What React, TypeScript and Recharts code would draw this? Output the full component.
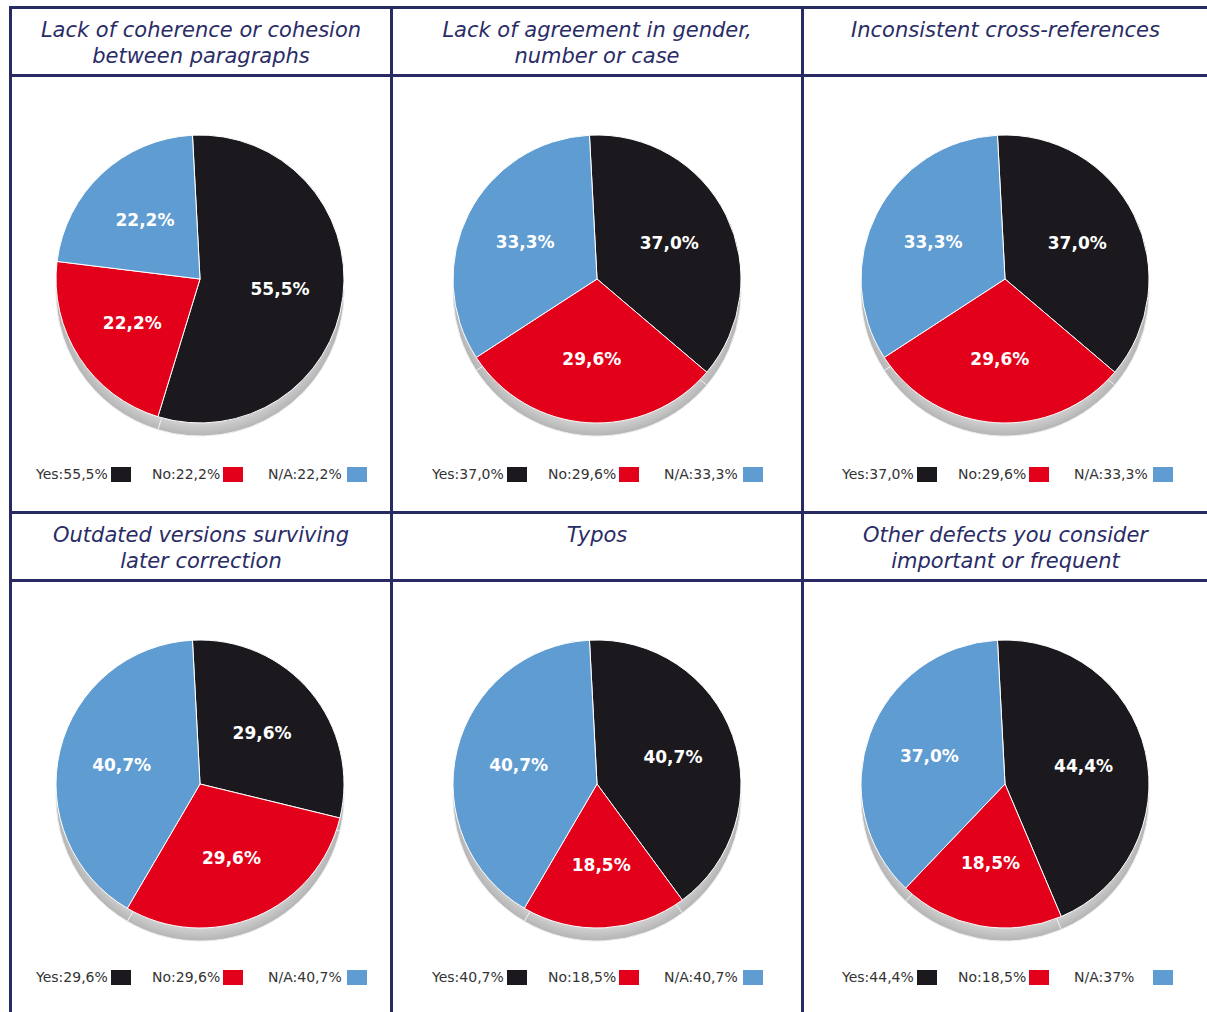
import React from 'react';
import { PieChart, Pie, Cell, Legend } from 'recharts';

const titles = [
  ['Lack of coherence or cohesion', 'between paragraphs'],
  ['Lack of agreement in gender,', 'number or case'],
  ['Inconsistent cross-references'],
  ['Outdated versions surviving', 'later correction'],
  ['Typos'],
  ['Other defects you consider', 'important or frequent'],
];

const categories = ['Yes', 'No', 'N/A'];
const yesValues = [55.5, 37.0, 37.0, 29.6, 40.7, 44.4];
const noValues = [22.2, 29.6, 29.6, 29.6, 18.5, 18.5];
const naValues = [22.2, 33.3, 33.3, 40.7, 40.7, 37.0];

// legend strings as printed (last N/A is written without decimal)
const yesLegend = ['55,5%', '37,0%', '37,0%', '29,6%', '40,7%', '44,4%'];
const noLegend = ['22,2%', '29,6%', '29,6%', '29,6%', '18,5%', '18,5%'];
const naLegend = ['22,2%', '33,3%', '33,3%', '40,7%', '40,7%', '37%'];

const COLORS = ['#1b191e', '#e2001a', '#5f9cd1'];
const NAVY = '#272a63';
const FONT = '"DejaVu Sans", Verdana, sans-serif';

const LINE = 3;
const colLeft = [3, 384, 795];
const colWidth = [378, 408, 403];
const pieCx = [188, 204, 201];
const legendLeft = [24, 39, 38];
const rowHeaderTop = [3, 508];
const rowBodyTop = [71, 576];
const legendTop = [389, 387];
const CY = 202;
const R = 144;
const SHADOW = 13;

const RAD = Math.PI / 180;

function renderLabel(props: any) {
  const { cx, cy, midAngle, outerRadius, value } = props;
  const r = outerRadius * 0.56;
  const x = cx + r * Math.cos(-midAngle * RAD);
  const y = cy + r * Math.sin(-midAngle * RAD);
  return (
    <text
      x={x}
      y={y}
      fill="#ffffff"
      textAnchor="middle"
      dominantBaseline="central"
      fontFamily={FONT}
      fontWeight="bold"
      fontSize={17}
    >
      {value.toFixed(1).replace('.', ',')}%
    </text>
  );
}

function PiePanel({ i }: { i: number }) {
  const col = i % 3;
  const row = Math.floor(i / 3);
  const data = categories.map((name, k) => ({
    name,
    value: [yesValues, noValues, naValues][k][i],
  }));
  const legendTexts = [yesLegend[i], noLegend[i], naLegend[i]];
  const cx = pieCx[col];

  return (
    <PieChart
      width={colWidth[col]}
      height={430}
      margin={{ top: 0, right: 0, bottom: 0, left: 0 }}
    >
      <defs>
        <radialGradient
          id={`shadow${i}`}
          gradientUnits="userSpaceOnUse"
          cx={cx}
          cy={CY + SHADOW}
          r={R}
        >
          <stop offset="0%" stopColor="#dcdcdc" />
          <stop offset="90%" stopColor="#d4d4d4" />
          <stop offset="100%" stopColor="#b4b4b4" />
        </radialGradient>
      </defs>
      {/* grey base, shifted down, gives the 3D rim */}
      <Pie
        data={data}
        dataKey="value"
        nameKey="name"
        cx={cx}
        cy={CY + SHADOW}
        outerRadius={R}
        startAngle={93}
        endAngle={-267}
        stroke="#ececec"
        strokeWidth={1}
        legendType="none"
        isAnimationActive={false}
      >
        {data.map((d) => (
          <Cell key={d.name} fill={`url(#shadow${i})`} />
        ))}
      </Pie>
      <Pie
        data={data}
        dataKey="value"
        nameKey="name"
        cx={cx}
        cy={CY}
        outerRadius={R}
        startAngle={93}
        endAngle={-267}
        stroke="#ffffff"
        strokeWidth={1}
        label={renderLabel}
        labelLine={false}
        isAnimationActive={false}
      >
        {data.map((d, k) => (
          <Cell key={d.name} fill={COLORS[k]} />
        ))}
      </Pie>
      <Legend
        wrapperStyle={{ top: legendTop[row], left: legendLeft[col], width: 'auto', height: 16 }}
        content={() => (
          <div style={{ display: 'flex', fontFamily: FONT, fontSize: 14, color: '#333333' }}>
            {categories.map((c, k) => (
              <div key={c} style={{ width: 116, display: 'flex', alignItems: 'center', height: 16 }}>
                <span style={{ minWidth: k === 2 ? 76 : undefined, whiteSpace: 'nowrap', lineHeight: '16px' }}>
                  {c}:{legendTexts[k]}
                </span>
                <span
                  style={{
                    display: 'inline-block',
                    width: 20,
                    height: 15,
                    marginLeft: 3,
                    background: COLORS[k],
                  }}
                />
              </div>
            ))}
          </div>
        )}
      />
    </PieChart>
  );
}

export default function App() {
  const hLines = [0, 68, 505, 573];
  const vLines = [0, 381, 792];
  return (
    <div style={{ position: 'absolute', left: 9, top: 6, width: 1198, height: 1006, overflow: 'hidden' }}>
      {hLines.map((y) => (
        <div key={`h${y}`} style={{ position: 'absolute', left: 0, top: y, width: 1198, height: LINE, background: NAVY }} />
      ))}
      {vLines.map((x) => (
        <div key={`v${x}`} style={{ position: 'absolute', left: x, top: 0, width: LINE, height: 1006, background: NAVY }} />
      ))}
      {titles.map((lines, i) => {
        const col = i % 3;
        const row = Math.floor(i / 3);
        return (
          <div
            key={`t${i}`}
            style={{
              position: 'absolute',
              left: colLeft[col],
              top: rowHeaderTop[row] + 8,
              width: colWidth[col],
              textAlign: 'center',
              fontFamily: FONT,
              fontStyle: 'italic',
              fontSize: 21,
              lineHeight: '26px',
              color: '#2a2c66',
            }}
          >
            {lines.map((l) => (
              <div key={l}>{l}</div>
            ))}
          </div>
        );
      })}
      {titles.map((_, i) => {
        const col = i % 3;
        const row = Math.floor(i / 3);
        return (
          <div key={`p${i}`} style={{ position: 'absolute', left: colLeft[col], top: rowBodyTop[row] }}>
            <PiePanel i={i} />
          </div>
        );
      })}
    </div>
  );
}
